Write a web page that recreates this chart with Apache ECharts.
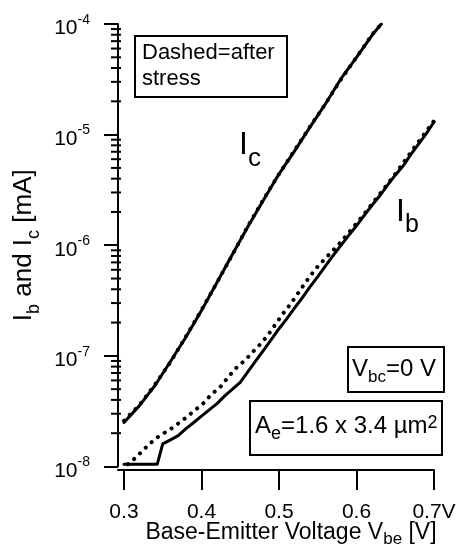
<!DOCTYPE html>
<html>
<head>
<meta charset="utf-8">
<script src="https://cdn.jsdelivr.net/npm/echarts/dist/echarts.min.js"></script>
<style>
html, body { margin: 0; padding: 0; background: #fff; }
#main { width: 461px; height: 546px; }
</style>
</head>
<body>
<div id="main"></div>
<script>
// Ic, before (solid) and after stress (dotted)
var vIc = [0.300, 0.320, 0.340, 0.360, 0.380, 0.400, 0.420, 0.440, 0.460, 0.480,
           0.500, 0.520, 0.540, 0.560, 0.580, 0.600, 0.620, 0.632];
var ic = [2.5e-8, 3.55e-8, 5.4e-8, 8.9e-8, 1.48e-7, 2.57e-7, 4.6e-7, 8.3e-7, 1.48e-6, 2.57e-6,
          4.4e-6, 7.1e-6, 1.17e-5, 1.9e-5, 3.2e-5, 5.0e-5, 7.9e-5, 1.0e-4];
var icAfter = [2.6e-8, 3.6e-8, 5.5e-8, 8.8e-8, 1.5e-7, 2.6e-7, 4.6e-7, 8.2e-7, 1.5e-6, 2.6e-6,
               4.4e-6, 7.2e-6, 1.18e-5, 1.9e-5, 3.15e-5, 5.0e-5, 8.0e-5, 1.0e-4];

// Ib before stress (solid)
var vIb = [0.300, 0.343, 0.350, 0.360, 0.370, 0.380, 0.390, 0.400, 0.410, 0.420,
           0.430, 0.440, 0.450, 0.460, 0.470, 0.480, 0.490, 0.500, 0.510, 0.520,
           0.530, 0.540, 0.550, 0.560, 0.570, 0.580, 0.590, 0.600, 0.610, 0.620,
           0.630, 0.640, 0.650, 0.660, 0.670, 0.680, 0.690, 0.700];
var ib = [1.05e-8, 1.05e-8, 1.6e-8, 1.74e-8, 1.9e-8, 2.2e-8, 2.5e-8, 2.85e-8, 3.25e-8, 3.7e-8,
          4.35e-8, 5.0e-8, 5.75e-8, 7.2e-8, 9.0e-8, 1.12e-7, 1.4e-7, 1.76e-7, 2.16e-7, 2.7e-7,
          3.35e-7, 4.2e-7, 5.2e-7, 6.5e-7, 8.1e-7, 1.0e-6, 1.23e-6, 1.5e-6, 1.86e-6, 2.3e-6,
          2.8e-6, 3.5e-6, 4.3e-6, 5.2e-6, 6.6e-6, 8.2e-6, 1.02e-5, 1.3e-5];

// Ib after stress (dotted)
var vIbAfter = [0.305, 0.312, 0.320, 0.333, 0.346, 0.359, 0.370, 0.381, 0.392, 0.402,
                0.413, 0.424, 0.435, 0.445, 0.456, 0.467, 0.478, 0.488, 0.497, 0.506,
                0.515, 0.523, 0.535, 0.548, 0.562, 0.575, 0.590, 0.610, 0.630, 0.650,
                0.670, 0.690, 0.700];
var ibAfter = [1.05e-8, 1.15e-8, 1.3e-8, 1.6e-8, 1.9e-8, 2.15e-8, 2.45e-8, 2.8e-8, 3.25e-8, 3.7e-8,
               4.5e-8, 5.2e-8, 6.5e-8, 7.8e-8, 9.1e-8, 1.1e-7, 1.32e-7, 1.62e-7, 2.0e-7, 2.45e-7,
               2.95e-7, 3.55e-7, 4.7e-7, 6.2e-7, 7.9e-7, 9.8e-7, 1.3e-6, 1.92e-6, 2.9e-6, 4.4e-6,
               6.9e-6, 1.07e-5, 1.33e-5];

var xTicks = [0.3, 0.4, 0.5, 0.6, 0.7];
var xMin = 0.2923;
var decades = [1e-8, 1e-7, 1e-6, 1e-5];
var minorSteps = [2, 3, 4, 5, 6, 7, 8, 9];

var FONT = '"Liberation Sans", Arial, sans-serif';

function pairs(xs, ys) {
    return xs.map(function (x, i) { return [x, ys[i]]; });
}

// main text + subscript, both top aligned; padding-top pushes the subscript down
function subRich(F, f, pad) {
    return {
        m: { fontSize: F, fontFamily: FONT, color: '#000', lineHeight: F, verticalAlign: 'top' },
        s: { fontSize: f, fontFamily: FONT, color: '#000', lineHeight: F, verticalAlign: 'top', padding: [pad, 0, 0, 0] }
    };
}

var minorTicks = [];
decades.forEach(function (d) {
    minorSteps.forEach(function (k) { minorTicks.push([xMin, k * d]); });
});

var solidStyle = { color: '#000', width: 3, cap: 'round', join: 'round' };
var dotStyle = { color: '#000', width: 4, type: [0.1, 8], cap: 'round' };

var chart = echarts.init(document.getElementById('main'), null, { renderer: 'canvas' });

var aeRich = subRich(24, 18, 11);
aeRich.p = { fontSize: 18, fontFamily: FONT, color: '#000', lineHeight: 24, verticalAlign: 'top' };

var option = {
    animation: false,
    backgroundColor: '#fff',
    textStyle: { fontFamily: FONT, color: '#000' },
    grid: { left: 118, right: 27, top: 24, bottom: 79.5, containLabel: false, outerBoundsMode: 'none' },
    xAxis: {
        type: 'value',
        min: xMin,
        max: 0.7,
        offset: 3.5,
        splitLine: { show: false },
        axisLine: { lineStyle: { color: '#000', width: 2 } },
        axisTick: { customValues: xTicks, length: 20, lineStyle: { color: '#000', width: 2 } },
        axisLabel: {
            customValues: xTicks,
            margin: 32,
            fontSize: 21,
            color: '#000',
            fontFamily: FONT,
            formatter: function (v) {
                return Math.abs(v - 0.7) < 1e-9 ? '0.7V' : v.toFixed(1);
            }
        },
        name: '{m|Base-Emitter Voltage V}{s|be}{m| [V]}',
        nameLocation: 'middle',
        nameGap: 51,
        nameMoveOverlap: false,
        nameTextStyle: {
            padding: [0, 0, 0, 30],
            rich: subRich(23, 17, 10)
        }
    },
    yAxis: {
        type: 'log',
        logBase: 10,
        min: 1e-8,
        max: 1e-4,
        splitLine: { show: false },
        axisLine: { lineStyle: { color: '#000', width: 2 } },
        axisTick: { length: 14, lineStyle: { color: '#000', width: 2 } },
        axisLabel: {
            margin: 28,
            formatter: function (v) {
                return '{b|10}{s|' + Math.round(Math.log10(v)) + '}';
            },
            rich: {
                b: { fontSize: 21, fontFamily: FONT, color: '#000', lineHeight: 22, verticalAlign: 'top', padding: [5, 0, 0, 0] },
                s: { fontSize: 14, fontFamily: FONT, color: '#000', lineHeight: 14, verticalAlign: 'top' }
            }
        },
        name: '{m|I}{s|b}{m| and I}{s|c}{m| [mA]}',
        nameLocation: 'middle',
        nameRotate: 90,
        nameGap: 77,
        nameTextStyle: { rich: subRich(26, 18, 14) }
    },
    graphic: [
        { type: 'rect', shape: { x: 135, y: 36, width: 152, height: 61 },
          style: { fill: '#fff', stroke: '#000', lineWidth: 2 } },
        { type: 'text', x: 142, y: 40,
          style: { text: 'Dashed=after\nstress', font: '22px ' + FONT, fill: '#000', lineHeight: 26 } },

        { type: 'rect', shape: { x: 348, y: 347, width: 96, height: 45 },
          style: { fill: '#fff', stroke: '#000', lineWidth: 2 } },
        { type: 'text', x: 352, y: 357,
          style: { text: '{m|V}{s|bc}{m|=0 V}', fill: '#000', rich: subRich(24, 17, 12) } },

        { type: 'rect', shape: { x: 250, y: 401, width: 192, height: 54 },
          style: { fill: '#fff', stroke: '#000', lineWidth: 2 } },
        { type: 'text', x: 255, y: 414,
          style: { text: '{m|A}{s|e}{m|=1.6 x 3.4 \u00b5m}{p|2}', fill: '#000', rich: aeRich } },

        { type: 'text', x: 239, y: 129,
          style: { text: '{m|I}{s|c}', fill: '#000', rich: subRich(32, 26, 17) } },
        { type: 'text', x: 396, y: 196,
          style: { text: '{m|I}{s|b}', fill: '#000', rich: subRich(32, 25, 17) } }
    ],
    series: [
        {
            name: 'minor ticks', type: 'custom', coordinateSystem: 'cartesian2d',
            silent: true, clip: false, data: minorTicks,
            renderItem: function (params, api) {
                var p = api.coord([api.value(0), api.value(1)]);
                return { type: 'line',
                         shape: { x1: p[0] - 7, y1: p[1], x2: p[0] + 3, y2: p[1] },
                         style: { stroke: '#000', lineWidth: 2 } };
            }
        },
        { name: 'Ib after', type: 'line', data: pairs(vIbAfter, ibAfter), showSymbol: false, lineStyle: dotStyle },
        { name: 'Ib', type: 'line', data: pairs(vIb, ib), showSymbol: false, lineStyle: solidStyle },
        { name: 'Ic after', type: 'line', data: pairs(vIc, icAfter), showSymbol: false, lineStyle: dotStyle },
        { name: 'Ic', type: 'line', data: pairs(vIc, ic), showSymbol: false, lineStyle: solidStyle }
    ]
};

chart.setOption(option);
</script>
</body>
</html>
